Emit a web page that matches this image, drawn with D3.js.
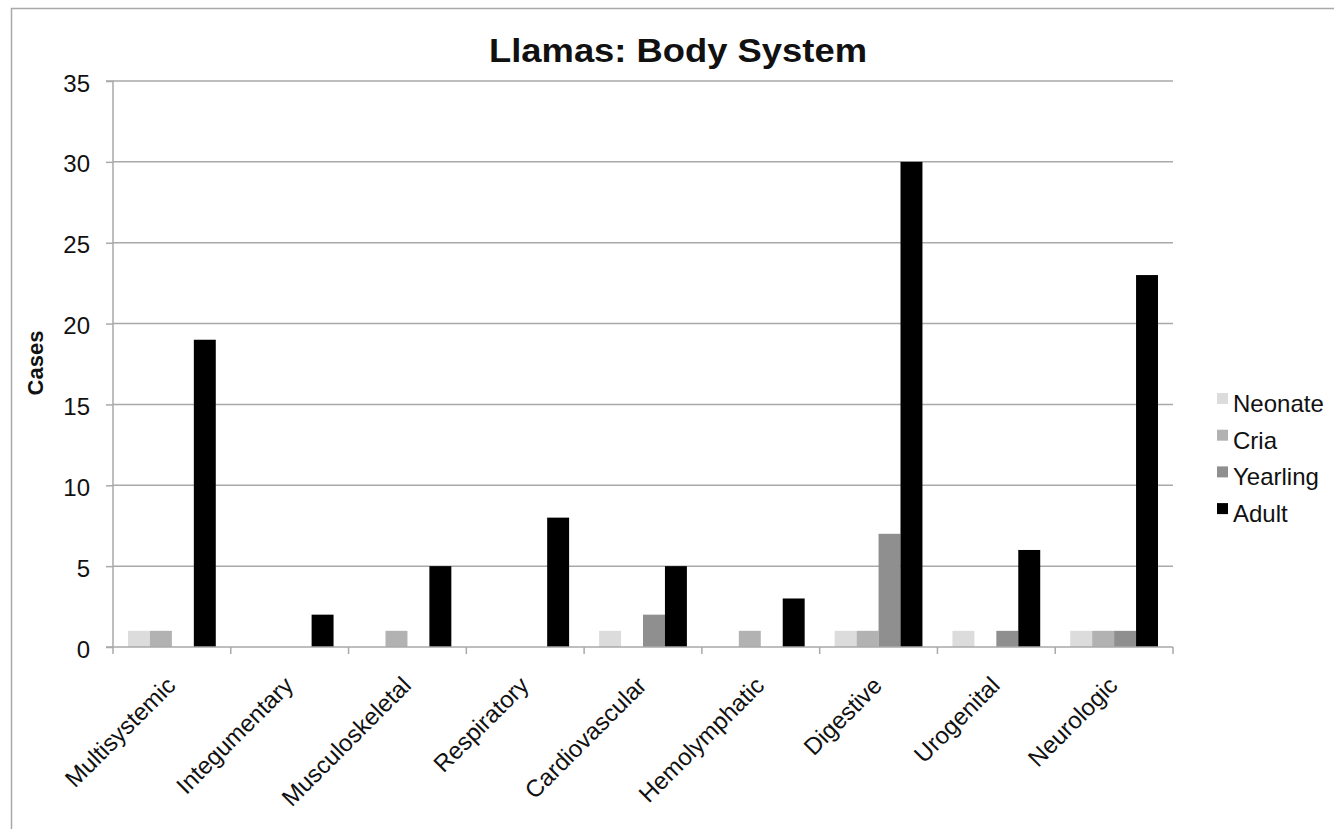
<!DOCTYPE html>
<html>
<head>
<meta charset="utf-8">
<script src="https://cdn.jsdelivr.net/npm/d3@7"></script>
<style>
  html, body { margin: 0; padding: 0; background: #fff; }
  svg text { font-family: "Liberation Sans", Arial, Helvetica, sans-serif; }
</style>
</head>
<body>
<svg id="chart" width="1334" height="829"></svg>
<script>
// Body-system case counts for llamas, by age group
const categories = ["Multisystemic", "Integumentary", "Musculoskeletal", "Respiratory",
  "Cardiovascular", "Hemolymphatic", "Digestive", "Urogenital", "Neurologic"];
const seriesNames = ["Neonate", "Cria", "Yearling", "Adult"];
const neonate  = [1, 0, 0, 0, 1, 0, 1, 1, 1];
const cria     = [1, 0, 1, 0, 0, 1, 1, 0, 1];
const yearling = [0, 0, 0, 0, 2, 0, 7, 1, 1];
const adult    = [19, 2, 5, 8, 5, 3, 30, 6, 23];
const yTicks   = [0, 5, 10, 15, 20, 25, 30, 35];
const seriesColors = ["#dcdcdc", "#b2b2b2", "#8f8f8f", "#000000"];

const seriesValues = [neonate, cria, yearling, adult];

const svg = d3.select("#chart");
const axisGrey = "#a9a9a9";

// outer frame
svg.append("rect")
  .attr("x", 11.5).attr("y", 8.5)
  .attr("width", 1340).attr("height", 840)
  .attr("fill", "none").attr("stroke", axisGrey).attr("stroke-width", 1.5);

const plot = { left: 113, right: 1173, top: 81, bottom: 647 };

const x0 = d3.scaleBand().domain(categories).range([plot.left, plot.right]).paddingInner(0).paddingOuter(0);
const x1 = d3.scaleBand().domain(seriesNames).range([15, x0.bandwidth() - 15]).padding(0);
const y = d3.scaleLinear().domain([0, 35]).range([plot.bottom, plot.top]);

// gridlines
svg.append("g").selectAll("line").data(yTicks.filter(t => t > 0)).join("line")
  .attr("x1", plot.left).attr("x2", plot.right)
  .attr("y1", d => y(d)).attr("y2", d => y(d))
  .attr("stroke", axisGrey).attr("stroke-width", 1.5);

// bars
const groups = svg.append("g").selectAll("g").data(categories).join("g")
  .attr("transform", d => `translate(${x0(d)},0)`);
groups.selectAll("rect")
  .data((c, i) => seriesNames.map((s, j) => ({ s, j, v: seriesValues[j][i] })))
  .join("rect")
  .attr("x", d => x1(d.s))
  .attr("width", x1.bandwidth())
  .attr("y", d => y(d.v))
  .attr("height", d => y(0) - y(d.v))
  .attr("fill", d => seriesColors[d.j]);

// y axis
const yAxis = d3.axisLeft(y).tickValues(yTicks).tickSize(7).tickPadding(16);
const gy = svg.append("g").attr("transform", `translate(${plot.left},0)`).call(yAxis);
gy.attr("font-size", null).attr("font-family", null);
gy.select(".domain").attr("stroke", axisGrey).attr("stroke-width", 1.5).attr("d", `M-7,${plot.top}H0V${plot.bottom}`);
gy.selectAll(".tick line").attr("stroke", axisGrey).attr("stroke-width", 1.5);
gy.selectAll(".tick text").attr("font-size", 24).attr("fill", "#111").attr("dy", "0.42em");

// x axis
const gx = svg.append("g").attr("transform", `translate(0,${plot.bottom})`);
gx.append("line").attr("x1", plot.left - 7).attr("x2", plot.right)
  .attr("stroke", axisGrey).attr("stroke-width", 1.5);
const boundaries = categories.map(c => x0(c)).concat([plot.right]);
gx.selectAll("line.tick").data(boundaries).join("line").attr("class", "tick")
  .attr("x1", d => d).attr("x2", d => d).attr("y1", 0).attr("y2", 7)
  .attr("stroke", axisGrey).attr("stroke-width", 1.5);
gx.selectAll("text").data(categories).join("text")
  .attr("transform", d => `translate(${x0(d) + x0.bandwidth() / 2 + 5},40) rotate(-45)`)
  .attr("text-anchor", "end")
  .attr("font-size", 24)
  .attr("fill", "#111")
  .text(d => d);

// title
svg.append("text").attr("x", 678).attr("y", 62).attr("text-anchor", "middle")
  .attr("font-size", 34).attr("font-weight", "bold").attr("fill", "#111")
  .attr("textLength", 378).attr("lengthAdjust", "spacingAndGlyphs")
  .text("Llamas: Body System");

// y-axis title
svg.append("text").attr("transform", "translate(43,363) rotate(-90)")
  .attr("text-anchor", "middle").attr("font-size", 22).attr("font-weight", "bold").attr("fill", "#111")
  .text("Cases");

// legend
const legend = svg.append("g").selectAll("g").data(seriesNames).join("g")
  .attr("transform", (d, i) => `translate(1217,${412 + i * 36.7})`);
legend.append("rect").attr("x", 0).attr("y", -19).attr("width", 11).attr("height", 11)
  .attr("fill", (d, i) => seriesColors[i]);
legend.append("text").attr("x", 16).attr("y", 0)
  .attr("font-size", 24).attr("fill", "#111").text(d => d);
</script>
</body>
</html>
